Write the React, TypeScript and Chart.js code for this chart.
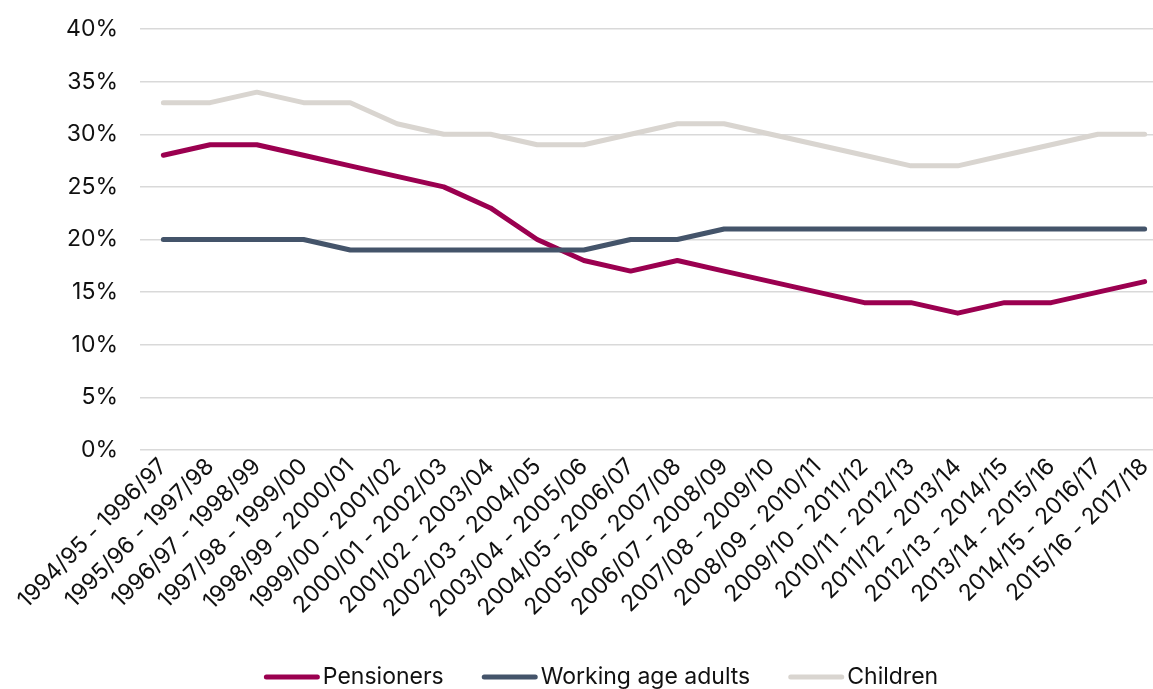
import React, { useEffect, useRef } from "react";
import { Chart, registerables } from "chart.js";

Chart.register(...registerables);

const periods = [
  "1994/95 - 1996/97",
  "1995/96 - 1997/98",
  "1996/97 - 1998/99",
  "1997/98 - 1999/00",
  "1998/99 - 2000/01",
  "1999/00 - 2001/02",
  "2000/01 - 2002/03",
  "2001/02 - 2003/04",
  "2002/03 - 2004/05",
  "2003/04 - 2005/06",
  "2004/05 - 2006/07",
  "2005/06 - 2007/08",
  "2006/07 - 2008/09",
  "2007/08 - 2009/10",
  "2008/09 - 2010/11",
  "2009/10 - 2011/12",
  "2010/11 - 2012/13",
  "2011/12 - 2013/14",
  "2012/13 - 2014/15",
  "2013/14 - 2015/16",
  "2014/15 - 2016/17",
  "2015/16 - 2017/18",
];

const pensioners = [28, 29, 29, 28, 27, 26, 25, 23, 20, 18, 17, 18, 17, 16, 15, 14, 14, 13, 14, 14, 15, 16];
const workingAgeAdults = [20, 20, 20, 20, 19, 19, 19, 19, 19, 19, 20, 20, 21, 21, 21, 21, 21, 21, 21, 21, 21, 21];
const children = [33, 33, 34, 33, 33, 31, 30, 30, 29, 29, 30, 31, 31, 30, 29, 28, 27, 27, 28, 29, 30, 30];

const seriesNames = ["Pensioners", "Working age adults", "Children"];
const seriesColors = ["#9B0050", "#44546A", "#D9D5D0"];

const CANVAS_W = 1194;
const CANVAS_H = 689;
const FONT_FAMILY = "Inter";
const FONT_SIZE = 23;
const TEXT_COLOR = "#111";

// Legend drawn along the bottom: short rounded line swatch followed by the name.
const bottomLegend = {
  id: "bottomLegend",
  afterDraw(chart: Chart) {
    const ctx = chart.ctx;
    const swatchW = 56;
    const swatchGap = 3;
    const itemGap = 38;
    const y = 677;
    ctx.save();
    ctx.font = `${FONT_SIZE}px ${FONT_FAMILY}, sans-serif`;
    const widths = seriesNames.map((n) => ctx.measureText(n).width);
    const total =
      widths.reduce((a, w) => a + swatchW + swatchGap + w, 0) + itemGap * (seriesNames.length - 1);
    let x = 601 - total / 2;
    ctx.textBaseline = "middle";
    ctx.textAlign = "left";
    seriesNames.forEach((name, i) => {
      ctx.strokeStyle = seriesColors[i];
      ctx.lineWidth = 5;
      ctx.lineCap = "round";
      ctx.beginPath();
      ctx.moveTo(x + 2.5, y);
      ctx.lineTo(x + swatchW - 2.5, y);
      ctx.stroke();
      x += swatchW + swatchGap;
      ctx.fillStyle = TEXT_COLOR;
      ctx.fillText(name, x, y);
      x += widths[i] + itemGap;
    });
    ctx.restore();
  },
};

export default function App() {
  const canvasRef = useRef<HTMLCanvasElement | null>(null);

  useEffect(() => {
    const canvas = canvasRef.current;
    if (!canvas) return;
    let chart: Chart | null = null;
    let cancelled = false;

    const build = () => {
      if (cancelled) return;
      const series = [pensioners, workingAgeAdults, children];
      chart = new Chart(canvas, {
        type: "line",
        data: {
          labels: periods,
          datasets: series.map((values, i) => ({
            label: seriesNames[i],
            data: values,
            borderColor: seriesColors[i],
            backgroundColor: seriesColors[i],
            borderWidth: 5,
            borderCapStyle: "round",
            borderJoinStyle: "round",
            pointRadius: 0,
            tension: 0,
            order: 3 - i,
          })),
        },
        options: {
          responsive: false,
          animation: false,
          devicePixelRatio: 1,
          layout: { padding: { top: 29, right: 26, left: 0, bottom: 69 } },
          plugins: {
            tooltip: { enabled: false },
            legend: { display: false },
          },
          scales: {
            x: {
              offset: true,
              afterFit: (scale) => {
                scale.height = 170;
                scale.paddingLeft = 0;
                scale.paddingRight = 0;
              },
              grid: { display: false, drawTicks: false, tickLength: 0 },
              border: { display: false },
              ticks: {
                autoSkip: false,
                maxRotation: 45,
                minRotation: 45,
                padding: 3,
                color: TEXT_COLOR,
                font: { family: FONT_FAMILY, size: FONT_SIZE },
              },
            },
            y: {
              min: 0,
              max: 40,
              afterFit: (scale) => {
                scale.width = 140;
                scale.paddingTop = 0;
                scale.paddingBottom = 0;
              },
              grid: { color: "#D9D9D9", lineWidth: 1.5, drawTicks: false, tickLength: 0 },
              border: { display: false },
              ticks: {
                stepSize: 5,
                padding: 22,
                color: TEXT_COLOR,
                font: { family: FONT_FAMILY, size: FONT_SIZE },
                callback: (v) => `${v}%`,
              },
            },
          },
        },
        plugins: [bottomLegend],
      });
    };

    const fonts = (document as any).fonts;
    if (fonts && fonts.load) {
      fonts.load(`${FONT_SIZE}px ${FONT_FAMILY}`).then(build, build);
    } else {
      build();
    }

    return () => {
      cancelled = true;
      if (chart) chart.destroy();
    };
  }, []);

  return (
    <div
      style={{
        position: "absolute",
        left: 0,
        top: 0,
        width: 1153,
        height: CANVAS_H,
        overflow: "hidden",
        background: "#fff",
      }}
    >
      <canvas ref={canvasRef} width={CANVAS_W} height={CANVAS_H} style={{ display: "block" }} />
    </div>
  );
}
